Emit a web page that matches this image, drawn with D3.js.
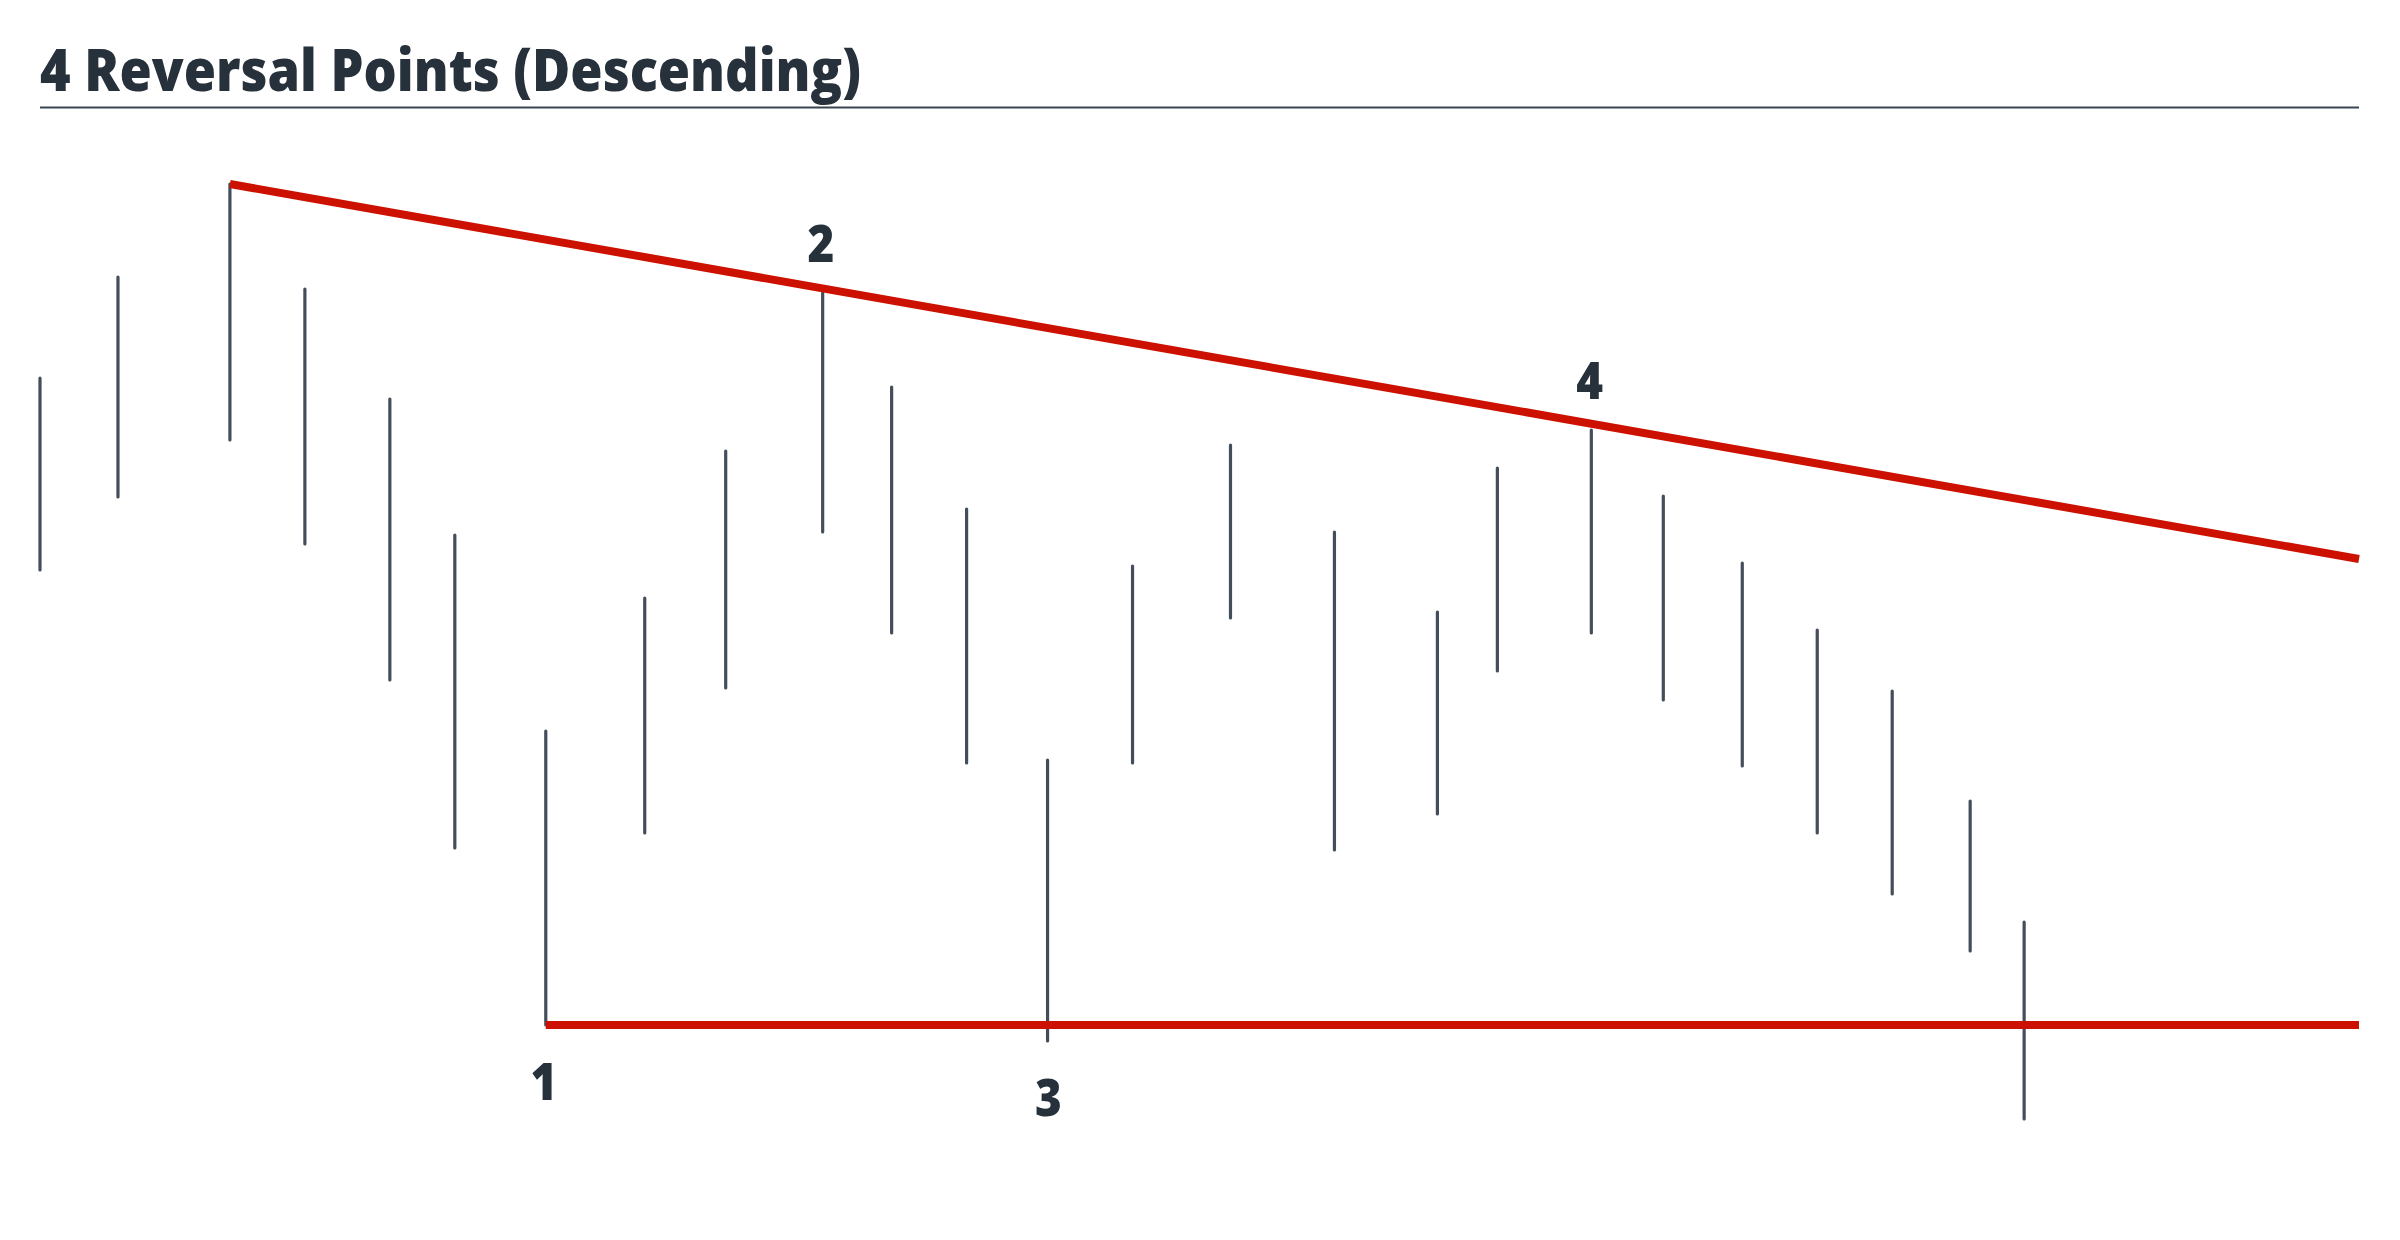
<!DOCTYPE html>
<html>
<head>
<meta charset="utf-8">
<script src="https://cdn.jsdelivr.net/npm/d3@7"></script>
<style>
  html, body { margin: 0; padding: 0; background: #fff; }
  svg { display: block; }
</style>
</head>
<body>
<svg id="chart"></svg>
<script>
// bar positions (time units) and high / low of each bar
const times = [0, 3.9, 9.5, 13.25, 17.5, 20.75, 25.3, 30.25, 34.3, 39.15, 42.6, 46.35, 50.4,
               54.65, 59.55, 64.75, 69.9, 72.9, 77.6, 81.2, 85.15, 88.9, 92.65, 96.55, 99.25];
const highs = [74.7, 84.8, 94.1, 83.6, 72.6, 59.0, 39.4, 52.7, 67.4, 83.2, 73.8, 61.6, 36.5,
               55.9, 68.0, 59.3, 51.3, 65.7, 69.5, 62.9, 56.2, 49.5, 43.4, 32.4, 20.3];
const lows  = [55.5, 62.8, 68.5, 58.1, 44.5, 27.7, 10.0, 29.2, 43.7, 59.3, 49.2, 36.2, 8.4,
               36.2, 50.7, 27.5, 31.1, 45.4, 49.2, 42.5, 35.9, 29.2, 23.1, 17.4, 0.6];

// reversal points: bar index, label, side
const pivotIdx   = [6, 9, 12, 18];
const pivotLabel = ["1", "2", "3", "4"];
const pivotSide  = ["low", "high", "low", "high"];

// trend lines
const resistance = [[9.5, 94.1], [116, 56.6]];
const support    = [[25.3, 10.0], [116, 10.0]];

const title = "4 Reversal Points (Descending)";

const W = 2400, H = 1240;
const margin = { left: 40, right: 41, top: 125, bottom: 115 };

const svg = d3.select("#chart")
    .attr("width", W)
    .attr("height", H)
    .attr("viewBox", `0 0 ${W} ${H}`);

const x = d3.scaleLinear().domain([0, 116]).range([margin.left, W - margin.right]);
const y = d3.scaleLinear().domain([0, 100]).range([H - margin.bottom, margin.top]);

const bars = times.map((t, i) => ({ t: t, hi: highs[i], lo: lows[i] }));

const font = "'Open Sans', Lato, sans-serif";

// title and rule
svg.append("text")
    .attr("x", 40)
    .attr("y", 91)
    .attr("fill", "#27313c")
    .style("font-family", font)
    .style("font-weight", 800)
    .style("font-size", "58px")
    .attr("textLength", 821)
    .attr("lengthAdjust", "spacingAndGlyphs")
    .text(title);

svg.append("line")
    .attr("x1", margin.left)
    .attr("x2", W - margin.right)
    .attr("y1", 107.5)
    .attr("y2", 107.5)
    .attr("stroke", "#3a4550")
    .attr("stroke-width", 2.2);

// high-low bars
svg.append("g")
    .selectAll("line")
    .data(bars)
    .enter()
    .append("line")
        .attr("x1", d => x(d.t))
        .attr("x2", d => x(d.t))
        .attr("y1", d => y(d.hi))
        .attr("y2", d => y(d.lo))
        .attr("stroke", "#434e5a")
        .attr("stroke-width", 3.2)
        .attr("stroke-linecap", "round");

// trend lines
const line = d3.line().x(d => x(d[0])).y(d => y(d[1]));

svg.append("g")
    .selectAll("path")
    .data([resistance, support])
    .enter()
    .append("path")
        .attr("d", line)
        .attr("fill", "none")
        .attr("stroke", "#cc1100")
        .attr("stroke-width", 8);

// pivot labels
svg.append("g")
    .selectAll("text")
    .data(pivotIdx)
    .enter()
    .append("text")
        .attr("x", (d, i) => x(times[d]) + (i === 2 ? 1 : -2))
        .attr("y", (d, i) => pivotSide[i] === "high" ? y(highs[d]) - 31 : y(lows[d]) + 75)
        .attr("text-anchor", "middle")
        .attr("fill", "#27313c")
        .style("font-family", font)
        .style("font-weight", 800)
        .style("font-size", "52px")
        .attr("transform", (d, i) => {
            const cx = x(times[d]);
            return `translate(${cx},0) scale(0.88,1) translate(${-cx},0)`;
        })
        .text((d, i) => pivotLabel[i]);
</script>
</body>
</html>
